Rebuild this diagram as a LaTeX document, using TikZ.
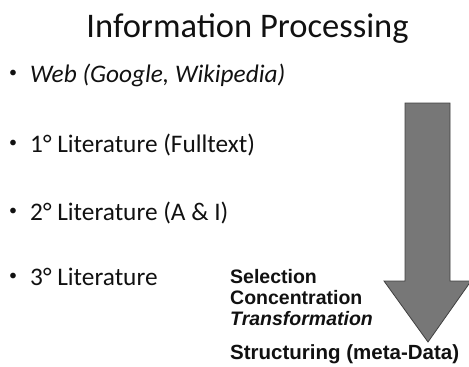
\documentclass[tikz,border=0pt]{standalone}
\usepackage{fontspec}
\setmainfont{Carlito}
\newfontfamily\arialf{Liberation Sans}
\definecolor{arrowfill}{HTML}{777777}
\definecolor{arrowline}{HTML}{404040}
\definecolor{txt}{HTML}{111111}
\newcommand{\mybul}{\makebox[21pt][l]{\raisebox{4.5pt}{\fontsize{16}{18}\selectfont •}}}
\begin{document}
\begin{tikzpicture}[x=1pt,y=-1pt,
  bullettext/.style={anchor=base west, inner sep=0pt, font=\fontsize{25.3}{30}\selectfont, text=txt},
  sidetext/.style={anchor=base west, inner sep=0pt, font=\arialf\bfseries\fontsize{19.5}{22}\selectfont, text=txt},
  bigarrow/.style={fill=arrowfill, draw=arrowline, line width=0.8pt, line join=miter}]
\useasboundingbox (0,0) rectangle (469,367);
\node[anchor=base, inner sep=0pt, font=\fontsize{34.5}{40}\selectfont, text=txt] (title) at (247.5,37) {Information Processing};
\node[bullettext] (b1) at (9,82) {\mybul\textit{Web (Google, Wikipedia)}};
\node[bullettext] (b2) at (9,152) {\mybul 1° Literature (Fulltext)};
\node[bullettext] (b3) at (9,220) {\mybul 2° Literature (A \& I)};
\node[bullettext] (b4) at (9,285) {\mybul 3° Literature};
\node[sidetext] (s1) at (230,283) {Selection};
\node[sidetext] (s2) at (230,304) {Concentration};
\node[sidetext] (s3) at (230,325) {\itshape Transformation};
\node[sidetext, font=\arialf\bfseries\fontsize{20.5}{23}\selectfont] (s4) at (230,359) {Structuring (meta-Data)};
\draw[bigarrow] (405,103) -- (450,103) -- (450,281) -- (471,281) -- (428,342) -- (384,281) -- (405,281) -- cycle;
\end{tikzpicture}
\end{document}
